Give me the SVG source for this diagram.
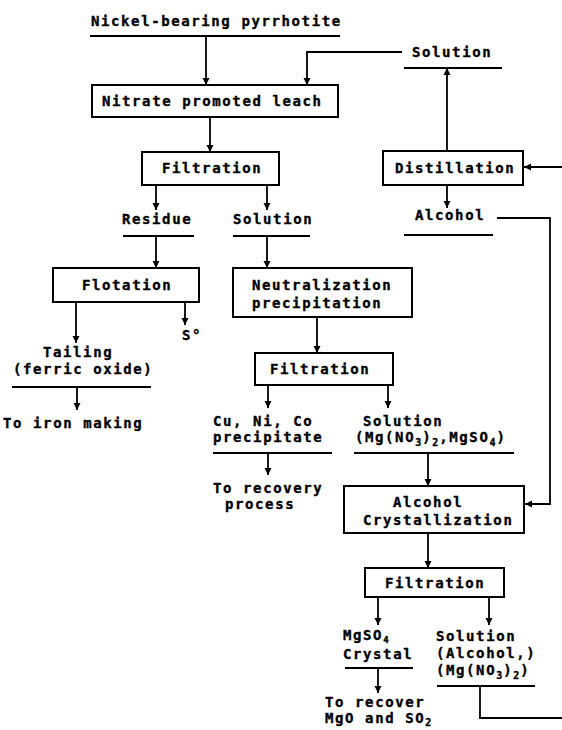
<svg xmlns="http://www.w3.org/2000/svg" width="562" height="730" viewBox="0 0 562 730">
<defs>
<marker id="ah" viewBox="0 0 10 10" refX="10" refY="5" markerWidth="7" markerHeight="10" markerUnits="userSpaceOnUse" orient="auto">
<path d="M0,0 L10,5 L0,10 z" fill="#000"/>
</marker>
<style>
text{font-family:"DejaVu Sans Mono","Liberation Mono",monospace;font-weight:bold;font-size:14px;letter-spacing:1.6px;fill:#000;stroke:#000;stroke-width:0.35}
.sub{font-size:10px;letter-spacing:1px}
.sub9{font-size:9px;letter-spacing:1px}
rect{fill:#fff;stroke:#000;stroke-width:2}
.ln{stroke:#000;stroke-width:1.8;fill:none}
.ar{stroke:#000;stroke-width:1.8;fill:none;marker-end:url(#ah)}
</style>
</defs>
<rect x="0" y="0" width="562" height="730" style="stroke:none;fill:#fff"/>

<g id="connectors">
<line class="ar" x1="206" y1="36" x2="206" y2="85"/>
<polyline class="ar" points="402,52 307,52 307,85"/>
<line class="ar" x1="210" y1="117" x2="210" y2="152"/>
<line class="ar" x1="156" y1="185" x2="156" y2="210"/>
<line class="ar" x1="267" y1="185" x2="267" y2="210"/>
<line class="ar" x1="156" y1="236" x2="156" y2="268"/>
<line class="ar" x1="267" y1="236" x2="267" y2="268"/>
<line class="ar" x1="76" y1="302" x2="76" y2="343"/>
<line class="ar" x1="185" y1="302" x2="185" y2="325"/>
<line class="ar" x1="77" y1="387" x2="77" y2="410"/>
<line class="ar" x1="317" y1="317" x2="317" y2="353"/>
<line class="ar" x1="268" y1="385" x2="268" y2="408"/>
<line class="ar" x1="388" y1="385" x2="388" y2="408"/>
<line class="ar" x1="268" y1="453" x2="268" y2="475"/>
<line class="ar" x1="428" y1="453" x2="428" y2="486"/>
<line class="ar" x1="428" y1="533" x2="428" y2="568"/>
<line class="ar" x1="378" y1="597" x2="378" y2="625"/>
<line class="ar" x1="489" y1="597" x2="489" y2="625"/>
<line class="ar" x1="378" y1="668" x2="378" y2="693"/>
<polyline class="ln" points="480,686 480,718 562,718"/>
<line class="ar" x1="447" y1="151" x2="447" y2="68"/>
<line class="ar" x1="447" y1="185" x2="447" y2="208"/>
<line class="ar" x1="562" y1="167" x2="524" y2="167"/>
<polyline class="ar" points="497,218 550,218 550,504 525,504"/>
</g>

<g id="feed">
<text x="91" y="26">Nickel-bearing pyrrhotite</text>
<line class="ln" x1="90" y1="36" x2="340" y2="36"/>
</g>
<g id="leach">
<rect x="92" y="85" width="246" height="32"/>
<text x="102" y="106">Nitrate promoted leach</text>
</g>
<g id="filtration1">
<rect x="142" y="152" width="137" height="33"/>
<text x="162" y="173">Filtration</text>
</g>
<g id="solution-top">
<text x="412" y="57">Solution</text>
<line class="ln" x1="404" y1="68" x2="502" y2="68"/>
</g>
<g id="distillation">
<rect x="383" y="151" width="140" height="34"/>
<text x="395" y="173">Distillation</text>
</g>
<g id="alcohol">
<text x="415" y="220">Alcohol</text>
<line class="ln" x1="404" y1="235" x2="493" y2="235"/>
</g>
<g id="residue">
<text x="122" y="224">Residue</text>
<line class="ln" x1="123" y1="236" x2="194" y2="236"/>
</g>
<g id="solution1">
<text x="233" y="224">Solution</text>
<line class="ln" x1="233" y1="236" x2="310" y2="236"/>
</g>
<g id="flotation">
<rect x="53" y="268" width="146" height="34"/>
<text x="82" y="290">Flotation</text>
</g>
<g id="sulfur">
<text x="182" y="340">S°</text>
</g>
<g id="tailing">
<text x="43" y="357">Tailing</text>
<text x="13" y="374">(ferric oxide)</text>
<line class="ln" x1="12" y1="387" x2="151" y2="387"/>
</g>
<g id="iron">
<text x="3" y="428">To iron making</text>
</g>
<g id="neutralization">
<rect x="233" y="268" width="179" height="49"/>
<text x="252" y="290">Neutralization</text>
<text x="252" y="308">precipitation</text>
</g>
<g id="filtration2">
<rect x="255" y="353" width="138" height="32"/>
<text x="270" y="374">Filtration</text>
</g>
<g id="precipitate">
<text x="213" y="426">Cu, Ni, Co</text>
<text x="213" y="442">precipitate</text>
<line class="ln" x1="213" y1="453" x2="332" y2="453"/>
</g>
<g id="recovery">
<text x="213" y="493">To recovery</text>
<text x="225" y="509">process</text>
</g>
<g id="solution2">
<text x="363" y="426">Solution</text>
<text x="355" y="442">(Mg(NO<tspan class="sub" dy="4">3</tspan><tspan dy="-4">)</tspan><tspan class="sub" dy="4">2</tspan><tspan dy="-4">,MgSO</tspan><tspan class="sub" dy="4">4</tspan><tspan dy="-4">)</tspan></text>
<line class="ln" x1="354" y1="453" x2="514" y2="453"/>
</g>
<g id="crystallization">
<rect x="344" y="486" width="180" height="47"/>
<text x="393" y="507">Alcohol</text>
<text x="363" y="525">Crystallization</text>
</g>
<g id="filtration3">
<rect x="365" y="568" width="139" height="29"/>
<text x="385" y="588">Filtration</text>
</g>
<g id="mgso4">
<text x="343" y="640">MgSO<tspan class="sub9" dy="3">4</tspan></text>
<text x="343" y="659">Crystal</text>
<line class="ln" x1="345" y1="668" x2="413" y2="668"/>
</g>
<g id="recover">
<text x="325" y="707">To recover</text>
<text x="325" y="723">MgO and SO<tspan class="sub" dy="3">2</tspan></text>
</g>
<g id="solution3">
<text x="436" y="641">Solution</text>
<text x="436" y="658">(Alcohol,)</text>
<text x="436" y="675">(Mg(NO<tspan class="sub" dy="4">3</tspan><tspan dy="-4">)</tspan><tspan class="sub" dy="4">2</tspan><tspan dy="-4">)</tspan></text>
<line class="ln" x1="437" y1="686" x2="535" y2="686"/>
</g>
</svg>
